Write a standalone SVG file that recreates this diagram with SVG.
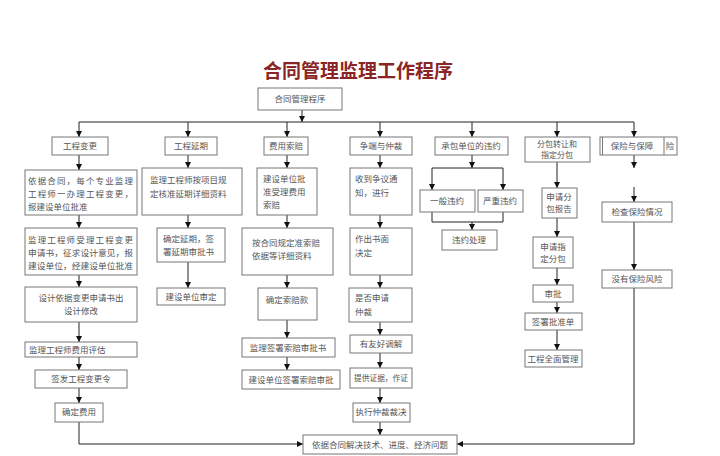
<svg xmlns="http://www.w3.org/2000/svg" width="720" height="456" viewBox="0 0 720 456">
<defs>
<marker id="ah" markerWidth="6" markerHeight="6" refX="6" refY="3" orient="auto" markerUnits="userSpaceOnUse">
<path d="M0,0 L6,3 L0,6 z" fill="#111"/>
</marker>
<style>
.b{fill:#fff;stroke:#777;stroke-width:1}
.t{font-family:"Noto Sans CJK SC","Noto Sans CJK TC",sans-serif;font-size:8.5px;fill:#555;text-anchor:middle}
.l{text-anchor:start}
.s{font-size:8px}
.c{stroke:#222;stroke-width:1;fill:none}
.a{marker-end:url(#ah)}
</style>
</defs>
<rect width="720" height="456" fill="#fff"/>
<text x="358" y="78" style="font-family:'Noto Sans CJK SC',sans-serif;font-size:19px;font-weight:bold;fill:#8b2525;text-anchor:middle">合同管理监理工作程序</text>

<g id="connectors">
<path class="c a" d="M302,110 V122"/>
<path class="c" d="M79,122 H634"/>
<path class="c a" d="M79,122 V137"/>
<path class="c a" d="M188,122 V137"/>
<path class="c a" d="M287,122 V137"/>
<path class="c a" d="M380,122 V137"/>
<path class="c a" d="M472,122 V137"/>
<path class="c a" d="M557,122 V137"/>
<path class="c a" d="M634,122 V137"/>
<path class="c a" d="M79,155 V170"/>
<path class="c a" d="M79,215 V228"/>
<path class="c a" d="M79,275 V287"/>
<path class="c a" d="M79,322 V342"/>
<path class="c a" d="M79,357 V370"/>
<path class="c a" d="M79,388 V403"/>
<path class="c a" d="M79,422 V444 H303"/>
<path class="c a" d="M188,155 V168"/>
<path class="c a" d="M188,215 V228"/>
<path class="c a" d="M188,262 V288"/>
<path class="c a" d="M287,155 V168"/>
<path class="c a" d="M287,215 V228"/>
<path class="c a" d="M287,275 V288"/>
<path class="c a" d="M287,320 V338"/>
<path class="c a" d="M287,357 V370"/>
<path class="c a" d="M380,155 V168"/>
<path class="c a" d="M380,215 V228"/>
<path class="c a" d="M380,275 V288"/>
<path class="c a" d="M380,322 V335"/>
<path class="c a" d="M380,353 V368"/>
<path class="c a" d="M380,388 V403"/>
<path class="c a" d="M380,422 V435"/>
<path class="c a" d="M472,155 V168"/>
<path class="c" d="M432,168 H503"/>
<path class="c a" d="M432,168 V190"/>
<path class="c a" d="M503,168 V190"/>
<path class="c" d="M432,212 V222 H503 V212"/>
<path class="c a" d="M472,222 V230"/>
<path class="c a" d="M557,162 V188"/>
<path class="c a" d="M557,218 V237"/>
<path class="c a" d="M557,268 V285"/>
<path class="c a" d="M557,302 V313"/>
<path class="c a" d="M557,330 V350"/>
<path class="c a" d="M634,155 V168"/>
<path class="c a" d="M634,187 V202"/>
<path class="c a" d="M634,222 V270"/>
<path class="c a" d="M634,288 V444 H457"/>
</g>

<g id="n0"><rect class="b" x="258" y="88" width="84" height="22"/><text class="t" x="300" y="102">合同管理程序</text></g>

<g id="n1a"><rect class="b" x="52" y="137" width="56" height="18"/><text class="t" x="80" y="149">工程变更</text></g>
<g id="n1b"><rect class="b" x="25" y="170" width="112" height="45"/><text class="t l" x="28" y="184"><tspan x="28" textLength="105" lengthAdjust="spacing">依据合同，每个专业监理</tspan><tspan x="28" dy="13" textLength="105" lengthAdjust="spacing">工程师一办理工程变更，</tspan><tspan x="28" dy="13">报建设单位批准</tspan></text></g>
<g id="n1c"><rect class="b" x="25" y="228" width="112" height="47"/><text class="t l" x="28" y="243"><tspan x="28" textLength="105" lengthAdjust="spacing">监理工程师受理工程变更</tspan><tspan x="28" dy="13" textLength="105" lengthAdjust="spacingAndGlyphs">申请书，征求设计意见，报</tspan><tspan x="28" dy="13" textLength="105" lengthAdjust="spacingAndGlyphs">建设单位，经建设单位批准</tspan></text></g>
<g id="n1d"><rect class="b" x="25" y="287" width="112" height="35"/><text class="t" x="81" y="301"><tspan x="81">设计依据变更申请书出</tspan><tspan x="81" dy="13">设计修改</tspan></text></g>
<g id="n1e"><rect class="b" x="25" y="342" width="112" height="15"/><text class="t l" x="29" y="353">监理工程师费用评估</text></g>
<g id="n1f"><rect class="b" x="35" y="370" width="92" height="18"/><text class="t" x="81" y="382">签发工程变更令</text></g>
<g id="n1g"><rect class="b" x="55" y="403" width="48" height="19"/><text class="t" x="79" y="415">确定费用</text></g>

<g id="n2a"><rect class="b" x="165" y="137" width="52" height="18"/><text class="t" x="191" y="149">工程延期</text></g>
<g id="n2b"><rect class="b" x="142" y="168" width="100" height="47"/><text class="t l" x="150" y="183"><tspan x="150">监理工程师按项目规</tspan><tspan x="150" dy="14">定核准延期详细资料</tspan></text></g>
<g id="n2c"><rect class="b" x="157" y="228" width="68" height="34"/><text class="t l" x="163" y="242"><tspan x="163">确定延期，签</tspan><tspan x="163" dy="13">署延期审批书</tspan></text></g>
<g id="n2d"><rect class="b" x="157" y="288" width="68" height="17"/><text class="t" x="191" y="300">建设单位审定</text></g>

<g id="n3a"><rect class="b" x="264" y="137" width="44" height="18"/><text class="t" x="286" y="149">费用索赔</text></g>
<g id="n3b"><rect class="b" x="257" y="168" width="60" height="47"/><text class="t l" x="263" y="182"><tspan x="263">建设单位批</tspan><tspan x="263" dy="13">准受理费用</tspan><tspan x="263" dy="13">索赔</tspan></text></g>
<g id="n3c"><rect class="b" x="242" y="228" width="91" height="47"/><text class="t l" x="252" y="246"><tspan x="252">按合同规定准索赔</tspan><tspan x="252" dy="13">依据等详细资料</tspan></text></g>
<g id="n3d"><rect class="b" x="258" y="288" width="59" height="32"/><text class="t" x="287" y="303">确定索赔款</text></g>
<g id="n3e"><rect class="b" x="242" y="338" width="93" height="19"/><text class="t" x="288" y="351">监理签署索赔审批书</text></g>
<g id="n3f"><rect class="b" x="242" y="370" width="98" height="19"/><text class="t" x="291" y="383">建设单位签署索赔审批</text></g>

<g id="n4a"><rect class="b" x="350" y="137" width="62" height="18"/><text class="t" x="381" y="149">争端与仲裁</text></g>
<g id="n4b"><rect class="b" x="350" y="168" width="62" height="47"/><text class="t l" x="355" y="182"><tspan x="355">收到争议通</tspan><tspan x="355" dy="14">知，进行</tspan></text></g>
<g id="n4c"><rect class="b" x="350" y="228" width="62" height="47"/><text class="t l" x="355" y="242"><tspan x="355">作出书面</tspan><tspan x="355" dy="14">决定</tspan></text></g>
<g id="n4d"><rect class="b" x="349" y="288" width="63" height="34"/><text class="t l" x="355" y="301"><tspan x="355">是否申请</tspan><tspan x="355" dy="14">仲裁</tspan></text></g>
<g id="n4e"><rect class="b" x="350" y="335" width="62" height="18"/><text class="t" x="381" y="347">有友好调解</text></g>
<g id="n4f"><rect class="b" x="350" y="368" width="62" height="20"/><text class="t" x="381" y="381" textLength="54" lengthAdjust="spacingAndGlyphs">提供证据，作证</text></g>
<g id="n4g"><rect class="b" x="353" y="403" width="57" height="19"/><text class="t" x="381" y="415">执行仲裁裁决</text></g>

<g id="nEnd"><rect class="b" x="303" y="435" width="154" height="19"/><text class="t" x="380" y="448">依据合同解决技术、进度、经济问题</text></g>

<g id="n5a"><rect class="b" x="435" y="137" width="73" height="18"/><text class="t" x="471" y="149">承包单位的违约</text></g>
<g id="n5b"><rect class="b" x="420" y="190" width="55" height="22"/><text class="t" x="447" y="204">一般违约</text></g>
<g id="n5c"><rect class="b" x="478" y="190" width="45" height="22"/><text class="t" x="500" y="204">严重违约</text></g>
<g id="n5d"><rect class="b" x="442" y="230" width="55" height="20"/><text class="t" x="469" y="243">违约处理</text></g>

<g id="n6a"><rect class="b" x="525" y="137" width="65" height="25"/><text class="t s" x="557" y="146.5"><tspan x="557">分包转让和</tspan><tspan x="557" dy="11">指定分包</tspan></text></g>
<g id="n6b"><rect class="b" x="542" y="188" width="35" height="30"/><text class="t" x="559" y="200"><tspan x="559">申请分</tspan><tspan x="559" dy="12">包报告</tspan></text></g>
<g id="n6c"><rect class="b" x="533" y="237" width="40" height="31"/><text class="t" x="553" y="250"><tspan x="553">申请指</tspan><tspan x="553" dy="12">定分包</tspan></text></g>
<g id="n6d"><rect class="b" x="533" y="285" width="40" height="17"/><text class="t" x="553" y="297">审批</text></g>
<g id="n6e"><rect class="b" x="525" y="313" width="57" height="17"/><text class="t" x="553" y="325">签署批准单</text></g>
<g id="n6f"><rect class="b" x="525" y="350" width="57" height="17"/><text class="t" x="553" y="362">工程全面管理</text></g>

<g id="n7a"><rect class="b" x="600" y="137" width="77" height="18"/><path d="M602.5,137 V155 M664,137 V155" style="stroke:#777;fill:none"/><text class="t" x="632" y="149">保险与保障</text><text class="t" x="670" y="149">险</text></g>
<g id="n7b"><rect class="b" x="602" y="202" width="70" height="20"/><text class="t" x="637" y="215">检查保险情况</text></g>
<g id="n7c"><rect class="b" x="602" y="270" width="70" height="18"/><text class="t" x="637" y="282">没有保险风险</text></g>
</svg>
